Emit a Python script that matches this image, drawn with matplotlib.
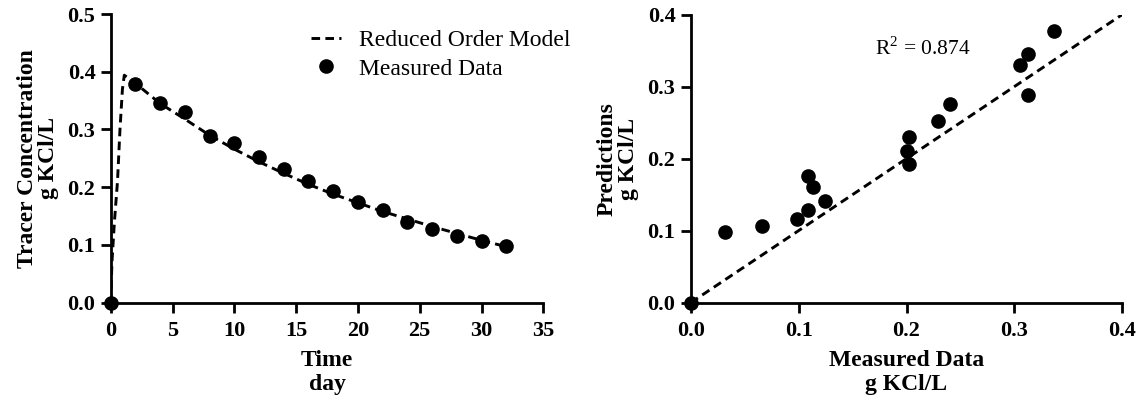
import matplotlib
matplotlib.use("Agg")
import matplotlib.pyplot as plt

plt.rcParams['font.family'] = ['Liberation Serif', 'DejaVu Serif']
plt.rcParams['mathtext.fontset'] = 'custom'
plt.rcParams['mathtext.rm'] = 'Liberation Serif'
plt.rcParams['lines.scale_dashes'] = False

# Left panel data
days = [0, 2, 4, 6, 8, 10, 12, 14, 16, 18, 20, 22, 24, 26, 28, 30, 32]
measured = [0.0, 0.378, 0.345, 0.330, 0.288, 0.276, 0.252, 0.231, 0.211,
            0.193, 0.175, 0.160, 0.140, 0.127, 0.116, 0.107, 0.098]
model_t = [0, 0.1, 0.3, 0.55, 0.75, 0.95, 1.1, 2, 4, 6, 8, 10, 12, 14, 16,
           18, 20, 22, 24, 26, 28, 30, 32]
model_c = [0.0, 0.07, 0.14, 0.21, 0.30, 0.37, 0.394, 0.380, 0.345, 0.318,
           0.290, 0.266, 0.244, 0.224, 0.205, 0.188, 0.173, 0.158, 0.145,
           0.132, 0.120, 0.108, 0.097]

# Right panel data
meas_x = [0.0, 0.0314, 0.0661, 0.0985, 0.109, 0.109, 0.1134, 0.1243, 0.2007,
          0.2026, 0.2026, 0.2291, 0.240, 0.3048, 0.3124, 0.3124, 0.3365]
pred_y = [0.0, 0.098, 0.1067, 0.1165, 0.128, 0.176, 0.1606, 0.1406, 0.2107,
          0.2302, 0.1921, 0.2524, 0.2756, 0.3299, 0.3457, 0.2886, 0.3768]
identity = [0.0, 0.4]
r2_text = r"R$^{\mathrm{2}}$ = 0.874"

W, H = 1143, 404
fig = plt.figure(figsize=(W / 100, H / 100), dpi=100)

tick_fs = 16
label_fs = 17
dash = (0, (6.2, 3.8))
lw_dash = 2.1


def style(ax):
    for s in ['top', 'right']:
        ax.spines[s].set_visible(False)
    for s in ['left', 'bottom']:
        ax.spines[s].set_linewidth(2.0)
    ax.tick_params(direction='out', length=7, width=2.0, labelsize=tick_fs)
    ax.tick_params(axis='x', pad=6.5)
    ax.tick_params(axis='y', pad=4)
    for lab in ax.get_xticklabels() + ax.get_yticklabels():
        lab.set_fontweight('bold')


ax1 = fig.add_axes([110.7 / W, 1 - 302.7 / H, 432.6 / W, 288.7 / H])
ax1.plot(model_t, model_c, color='black', lw=lw_dash, linestyle=dash,
         label='Reduced Order Model')
ax1.plot(days, measured, 'o', color='black', ms=9.5, clip_on=False,
         label='Measured Data')
ax1.set_xlim(0, 35)
ax1.set_ylim(0, 0.5)
ax1.set_xticks([0, 5, 10, 15, 20, 25, 30, 35])
ax1.set_yticks([0.0, 0.1, 0.2, 0.3, 0.4, 0.5])
ax1.set_yticklabels(['0.0', '0.1', '0.2', '0.3', '0.4', '0.5'])
style(ax1)
ax1.set_xlabel('Time\nday', fontsize=label_fs, fontweight='bold', linespacing=1.15)
ax1.set_ylabel('Tracer Concentration\ng KCl/L', fontsize=label_fs,
               fontweight='bold', linespacing=1.0)
ax1.xaxis.set_label_coords(0.5, -0.165)
ax1.yaxis.set_label_coords(-0.12, 0.5)
leg = ax1.legend(loc='upper left', bbox_to_anchor=(0.462, 0.945), frameon=False,
                 fontsize=17, handlelength=1.3, handletextpad=0.75,
                 labelspacing=0.28, borderpad=0, borderaxespad=0)

ax2 = fig.add_axes([690.7 / W, 1 - 302.7 / H, 431.6 / W, 288.2 / H])
ax2.plot(identity, identity, color='black', lw=lw_dash, linestyle=dash)
ax2.plot(meas_x, pred_y, 'o', color='black', ms=9.5, clip_on=False)
ax2.set_xlim(0, 0.4)
ax2.set_ylim(0, 0.4)
ax2.set_xticks([0.0, 0.1, 0.2, 0.3, 0.4])
ax2.set_xticklabels(['0.0', '0.1', '0.2', '0.3', '0.4'])
ax2.set_yticks([0.0, 0.1, 0.2, 0.3, 0.4])
ax2.set_yticklabels(['0.0', '0.1', '0.2', '0.3', '0.4'])
style(ax2)
ax2.set_xlabel('Measured Data\ng KCl/L', fontsize=label_fs, fontweight='bold',
               linespacing=1.15)
ax2.set_ylabel('Predictions\ng KCl/L', fontsize=label_fs, fontweight='bold',
               linespacing=1.0)
ax2.xaxis.set_label_coords(0.5, -0.165)
ax2.yaxis.set_label_coords(-0.12, 0.5)
ax2.text(0.171, 0.3535, r2_text, fontsize=15.5, va='center', ha='left')

fig.savefig('out.png', dpi=100)
